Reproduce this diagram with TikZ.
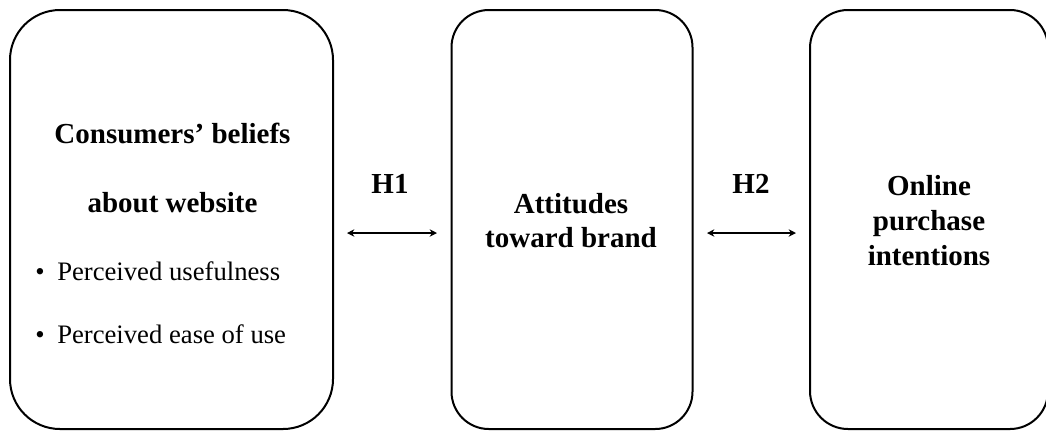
\documentclass[tikz,border=0pt]{standalone}
\usepackage{fontspec}
\setmainfont{Liberation Serif}
\usetikzlibrary{arrows.meta}
\begin{document}
\begin{tikzpicture}[x=0.75pt,y=-0.75pt,
  box/.style={draw, line width=1.5pt, inner sep=0pt, outer sep=0pt},
  bt/.style={font=\fontsize{21.75}{26}\selectfont\bfseries, inner sep=0pt, anchor=base},
  rt/.style={font=\fontsize{20}{24}\selectfont, inner sep=0pt, anchor=base west},
  link/.style={{Stealth[length=5.5pt,width=5.5pt]}-{Stealth[length=5.5pt,width=5.5pt]}, line width=1.3pt}]
\useasboundingbox (0,0) rectangle (1046,430);
% boxes
\node[box, rounded corners=37.5pt, minimum width=242.25pt, minimum height=314.25pt] (b1) at (171.5,219.5) {};
\node[box, rounded corners=28pt, minimum width=180.75pt, minimum height=314.25pt] (b2) at (572,219.5) {};
\node[box, rounded corners=28.5pt, minimum width=178.5pt, minimum height=314.25pt] (b3) at (929,219.5) {};
% box 1 text
\node[bt] (t1a) at (172.5,143) {Consumers’ beliefs};
\node[bt] (t1b) at (172.5,212) {about website};
\node[rt] (u1) at (35,280) {•};
\node[rt] (t1c) at (57,280) {Perceived usefulness};
\node[rt] (u2) at (35,343) {•};
\node[rt] (t1d) at (57,343) {Perceived ease of use};
% box 2 text
\node[bt] (t2a) at (571,213) {Attitudes};
\node[bt] (t2b) at (571,247) {toward brand};
% box 3 text
\node[bt] (t3a) at (929,195) {Online};
\node[bt] (t3b) at (929,230) {purchase};
\node[bt] (t3c) at (929,265) {intentions};
% hypotheses
\node[bt] (h1) at (390,193) {H1};
\node[bt] (h2) at (751,193) {H2};
% connectors
\coordinate (a1s) at (347,233);
\coordinate (a1e) at (437,233);
\coordinate (a2s) at (707,233);
\coordinate (a2e) at (796,233);
\draw[link] (a1s) -- (a1e);
\draw[link] (a2s) -- (a2e);
\end{tikzpicture}
\end{document}
